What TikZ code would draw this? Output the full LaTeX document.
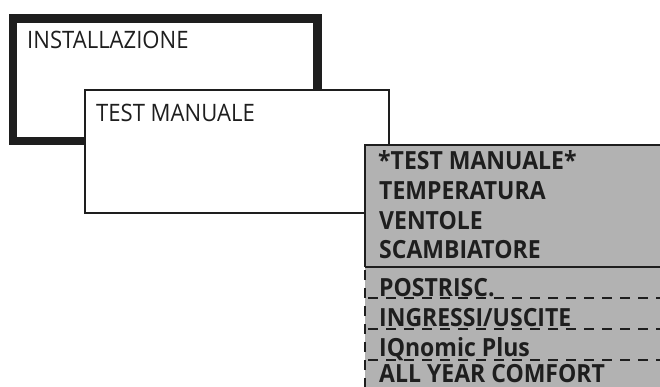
\documentclass[tikz,border=0pt]{standalone}
\usepackage{fontspec}
\setmainfont{Open Sans}
\newfontfamily\menufont{Open Sans}[FakeStretch=0.92]
\definecolor{ink}{HTML}{1E1E1E}
\definecolor{panel}{HTML}{B2B2B2}
\begin{document}
\begin{tikzpicture}[x=1pt,y=-1pt,
  lbl/.style={anchor=base west,inner sep=0pt,font=\menufont\fontsize{24}{28}\selectfont,text=ink},
  blbl/.style={anchor=base west,inner sep=0pt,font=\menufont\fontsize{25}{29}\selectfont\bfseries,text=ink},
  thin/.style={draw=ink,line width=2pt},
  dashline/.style={draw=ink,line width=2.6pt,dash pattern=on 10pt off 8pt}]
\useasboundingbox (0,0) rectangle (660,387);
\begin{scope}
\clip (0,0) rectangle (660,387);
% INSTALLAZIONE card
\draw[draw=ink,line width=8.5pt,fill=white] (13,18.5) rectangle (317.5,141);
\node[lbl] (inst) at (27,49) {INSTALLAZIONE};
% TEST MANUALE card
\draw[thin,fill=white] (85,90) rectangle (389,213);
\node[lbl] (test) at (96,122) {TEST MANUALE};
% grey menu panel
\fill[panel] (365,145) rectangle (670,400);
\draw[thin] (365,267) -- (365,145) -- (670,145);
\draw[thin] (365,267) -- (670,267);
\draw[dashline] (365,270) -- (365,395);
\draw[dashline] (368,298) -- (670,298);
\draw[dashline] (368,329) -- (670,329);
\draw[dashline] (368,360) -- (670,360);
\node[blbl] (m1) at (378,170) {*TEST MANUALE*};
\node[blbl] (m2) at (379,200) {TEMPERATURA};
\node[blbl] (m3) at (379,229) {VENTOLE};
\node[blbl] (m4) at (379,258) {SCAMBIATORE};
\node[blbl] (m5) at (379,296) {POSTRISC.};
\node[blbl] (m6) at (379,326) {INGRESSI/USCITE};
\node[blbl] (m7) at (379,356) {IQnomic Plus};
\node[blbl,text depth=0pt] (m8) at (379,382) {ALL YEAR COMFORT};
\end{scope}
\end{tikzpicture}
\end{document}
